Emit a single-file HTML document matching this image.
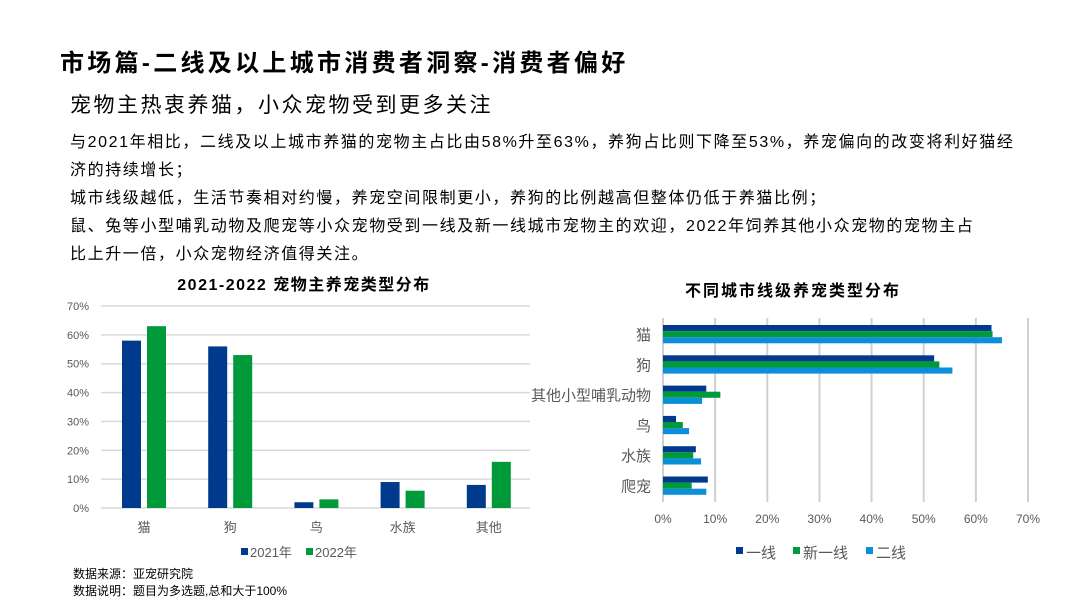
<!DOCTYPE html>
<html><head><meta charset="utf-8"><style>
body{margin:0;width:1080px;height:608px;background:#fff;font-family:"Liberation Sans","Noto Sans CJK SC",sans-serif;position:relative;overflow:hidden;color:#000}
.t{position:absolute;white-space:nowrap}
</style></head><body>
<div class="t" style="left:60px;top:43px;font-size:24px;font-weight:bold;letter-spacing:3.3px">市场篇-二线及以上城市消费者洞察-消费者偏好</div>
<div class="t" style="left:70px;top:89px;font-size:21px;letter-spacing:2.5px">宠物主热衷养猫，小众宠物受到更多关注</div>
<div class="t" style="left:70px;top:129px;font-size:16px;line-height:28px;letter-spacing:1.6px">与2021年相比，二线及以上城市养猫的宠物主占比由58%升至63%，养狗占比则下降至53%，养宠偏向的改变将利好猫经<br>济的持续增长；<br>城市线级越低，生活节奏相对约慢，养宠空间限制更小，养狗的比例越高但整体仍低于养猫比例；<br>鼠、兔等小型哺乳动物及爬宠等小众宠物受到一线及新一线城市宠物主的欢迎，2022年饲养其他小众宠物的宠物主占<br>比上升一倍，小众宠物经济值得关注。</div>
<svg width="1080" height="608" style="position:absolute;left:0;top:0" id="svg" font-family="Liberation Sans, Noto Sans CJK SC, sans-serif"></svg>
<div class="t" style="left:73px;top:566px;font-size:12px;line-height:17px">数据来源：亚宠研究院<br>数据说明：题目为多选题,总和大于100%</div>
<script>
const cats1=['猫','狗','鸟','水族','其他'];
const v2021=[58,56,2,9,8];
const v2022=[63,53,3,6,16];
const ticks1=[0,10,20,30,40,50,60,70];
const cats2=['猫','狗','其他小型哺乳动物','鸟','水族','爬宠'];
const tier1=[63,52,8.3,2.5,6.3,8.6];
const newTier1=[63.2,53,11,3.8,5.8,5.5];
const tier2=[65,55.5,7.5,5,7.3,8.3];
const ticks2=[0,10,20,30,40,50,60,70];
const svg=document.getElementById('svg');
const NS='http://www.w3.org/2000/svg';
function el(tag,attrs,name,txt){const e=document.createElementNS(NS,tag);for(const k in attrs)e.setAttribute(k,attrs[k]);


if(txt!==undefined)e.textContent=txt;svg.appendChild(e);return e;}
const C1='#003a8c',C2='#009a3a',C3='#0a8fd8';
// left chart
el('text',{x:304,y:290,'font-size':16,'font-weight':'bold','text-anchor':'middle','letter-spacing':1.5},'left-chart-title','2021-2022  宠物主养宠类型分布');
const y1=v=>508-v*202/70;
const xc1=i=>144+i*86.2;
ticks1.forEach(t=>{el('line',{x1:101,x2:530,y1:y1(t),y2:y1(t),stroke:'#d9d9d9','stroke-width':1.5},'y-gridline');
el('text',{x:89,y:y1(t)+4,'font-size':11,fill:'#595959','text-anchor':'end'},'y-tick-label',t+'%');});
cats1.forEach((c,i)=>{
el('rect',{x:xc1(i)-22,y:y1(v2021[i]),width:19,height:508-y1(v2021[i]),fill:C1},'bar-2021-'+i);
el('rect',{x:xc1(i)+3,y:y1(v2022[i]),width:19,height:508-y1(v2022[i]),fill:C2},'bar-2022-'+i);
el('text',{x:xc1(i),y:532,'font-size':13,fill:'#595959','text-anchor':'middle'},'x-tick-label',c);});
el('rect',{x:241,y:548,width:7,height:7,fill:C1},'legend-swatch-2021');
el('text',{x:250,y:557,'font-size':13,fill:'#595959'},'legend-2021','2021年');
el('rect',{x:306,y:548,width:7,height:7,fill:C2},'legend-swatch-2022');
el('text',{x:315,y:557,'font-size':13,fill:'#595959'},'legend-2022','2022年');
// right chart
el('text',{x:793,y:296,'font-size':16,'font-weight':'bold','text-anchor':'middle','letter-spacing':2},'right-chart-title','不同城市线级养宠类型分布');
const x2=v=>663+v*365/70;
const yr=i=>325+i*30.3;
ticks2.forEach(t=>{el('line',{x1:x2(t),x2:x2(t),y1:318,y2:502,stroke:'#d0d0d0','stroke-width':2},'x-gridline');
el('text',{x:x2(t),y:523,'font-size':12,fill:'#595959','text-anchor':'middle'},'x-tick-label',t+'%');});
cats2.forEach((c,i)=>{
[[tier1,C1,'tier1'],[newTier1,C2,'new-tier1'],[tier2,C3,'tier2']].forEach((s,j)=>{
el('rect',{x:663,y:yr(i)+j*6.1,width:x2(s[0][i])-663,height:6.1,fill:s[1]},'bar-'+s[2]+'-'+i);});
el('text',{x:651,y:yr(i)+15,'font-size':15,fill:'#595959','text-anchor':'end'},'y-tick-label',c);});
[[C1,'一线',736],[C2,'新一线',793],[C3,'二线',866]].forEach((l,k)=>{
el('rect',{x:l[2],y:547,width:7,height:7,fill:l[0]},'legend-swatch-'+k);
el('text',{x:l[2]+10,y:558,'font-size':15,fill:'#595959'},'legend-label-'+k,l[1]);});
</script>
</body></html>
